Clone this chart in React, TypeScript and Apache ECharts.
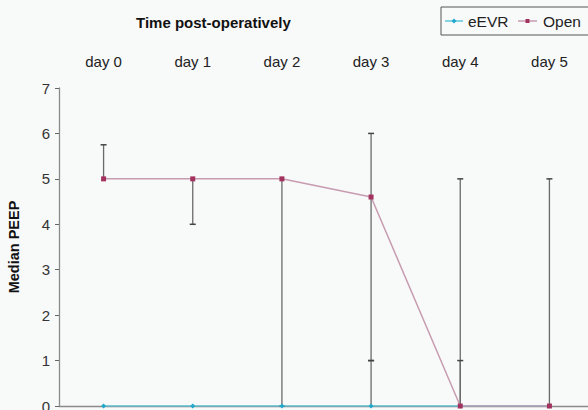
import React, { useEffect, useRef } from "react";
import * as echarts from "echarts";

const categories = ["day 0", "day 1", "day 2", "day 3", "day 4", "day 5"];
const evrMedian = [0, 0, 0, 0, 0, 0];
const openMedian = [5, 5, 5, 4.6, 0, 0];
const openLow = [5, 4, 0, 1, 0, 0];
const openHigh = [5.75, 5, 5, 6, 5, 5];
const evrLow = [0, 0, 0, 0, 0, 0];
const evrHigh = [0, 0, 0, 1, 1, 0];
const yTicks = [0, 1, 2, 3, 4, 5, 6, 7];
const seriesNames = ["eEVR", "Open"];

const FONT = "Liberation Sans, Arial, sans-serif";
const EVR_LINE = "#5cc6dc";
const EVR_MARK = "#22a9cc";
const OPEN_LINE = "#c79bb0";
const OPEN_MARK = "#a3325f";

export default function App() {
  const ref = useRef<HTMLDivElement>(null);
  useEffect(() => {
    if (!ref.current) return;
    const chart = echarts.init(ref.current, undefined, { renderer: "svg" });

    const errData: number[][] = [];
    categories.forEach((_, i) => {
      errData.push([i, openMedian[i], openLow[i], openHigh[i]]);
      errData.push([i, evrMedian[i], evrLow[i], evrHigh[i]]);
    });

    const renderItem = (params: any, api: any) => {
      const x = api.value(0);
      const med = api.value(1);
      const lo = api.value(2);
      const hi = api.value(3);
      const pLo = api.coord([x, lo]);
      const pHi = api.coord([x, hi]);
      const capW = 3;
      const style = { stroke: "#6a6a6a", lineWidth: 1.3 };
      const children: any[] = [];
      if (hi !== lo) {
        children.push({ type: "line", shape: { x1: pLo[0], y1: pLo[1], x2: pHi[0], y2: pHi[1] }, style });
      }
      if (hi !== med) {
        children.push({ type: "line", shape: { x1: pHi[0] - capW, y1: pHi[1], x2: pHi[0] + capW, y2: pHi[1] }, style: { stroke: "#444", lineWidth: 1.5 } });
      }
      if (lo !== med) {
        children.push({ type: "line", shape: { x1: pLo[0] - capW, y1: pLo[1], x2: pLo[0] + capW, y2: pLo[1] }, style: { stroke: "#444", lineWidth: 1.5 } });
      }
      return { type: "group", children };
    };

    const legendY = 21;
    const legendGraphic = {
      type: "group",
      children: [
        { type: "rect", shape: { x: 441, y: 7, width: 160, height: 28 }, style: { fill: "#f8f9f9", stroke: "#555", lineWidth: 1 } },
        { type: "line", shape: { x1: 445, y1: legendY, x2: 463, y2: legendY }, style: { stroke: EVR_LINE, lineWidth: 1.5 } },
        { type: "polygon", shape: { points: [[454, legendY - 2.5], [456.5, legendY], [454, legendY + 2.5], [451.5, legendY]] }, style: { fill: EVR_MARK } },
        { type: "text", x: 468, y: legendY, style: { text: seriesNames[0], fontFamily: FONT, fontSize: 15.5, fill: "#222", verticalAlign: "middle" } },
        { type: "line", shape: { x1: 518, y1: legendY, x2: 537, y2: legendY }, style: { stroke: OPEN_LINE, lineWidth: 1.5 } },
        { type: "rect", shape: { x: 525.5, y: legendY - 2, width: 4, height: 4 }, style: { fill: OPEN_MARK } },
        { type: "text", x: 543, y: legendY, style: { text: seriesNames[1], fontFamily: FONT, fontSize: 15.5, fill: "#222", verticalAlign: "middle" } },
      ],
    };

    chart.setOption({
      animation: false,
      backgroundColor: "#f8f9f9",
      title: {
        text: "Time post-operatively",
        left: 131,
        top: 10,
        textStyle: { fontFamily: FONT, fontSize: 15, fontWeight: "bold", color: "#111" },
      },
      graphic: [legendGraphic],
      grid: { left: 59, top: 88, width: 535, height: 318, containLabel: false, outerBoundsMode: "none" },
      xAxis: {
        type: "category",
        position: "top",
        data: categories,
        boundaryGap: true,
        axisLine: { lineStyle: { color: "#8a8a8a", width: 1.3 } },
        axisTick: { length: 4, lineStyle: { color: "#666" } },
        axisLabel: { fontFamily: FONT, fontSize: 15, color: "#222", margin: 19 },
      },
      yAxis: {
        type: "value",
        min: yTicks[0],
        max: yTicks[yTicks.length - 1],
        interval: 1,
        name: "Median PEEP",
        nameLocation: "middle",
        nameGap: 38,
        nameTextStyle: { fontFamily: FONT, fontSize: 14.5, fontWeight: "bold", color: "#111" },
        axisLine: { show: true, lineStyle: { color: "#8a8a8a", width: 1.3 } },
        axisTick: { show: true, length: 4, lineStyle: { color: "#666" } },
        axisLabel: { fontFamily: FONT, fontSize: 15, color: "#333", margin: 9 },
        splitLine: { show: false },
      },
      series: [
        {
          name: seriesNames[0],
          type: "line",
          data: evrMedian,
          symbol: "diamond",
          symbolSize: 5,
          itemStyle: { color: EVR_MARK },
          lineStyle: { color: EVR_LINE, width: 1.5 },
          z: 2,
        },
        {
          name: seriesNames[1],
          type: "line",
          data: openMedian,
          symbol: "rect",
          symbolSize: 5,
          itemStyle: { color: OPEN_MARK },
          lineStyle: { color: OPEN_LINE, width: 1.5 },
          z: 3,
        },
        {
          name: "err",
          type: "custom",
          renderItem,
          data: errData,
          encode: { x: 0, y: [1, 2, 3] },
          z: 1,
          silent: true,
        },
      ],
    });
    return () => chart.dispose();
  }, []);
  return <div ref={ref} style={{ position: "fixed", left: 0, top: 0, width: 588, height: 410 }} />;
}
